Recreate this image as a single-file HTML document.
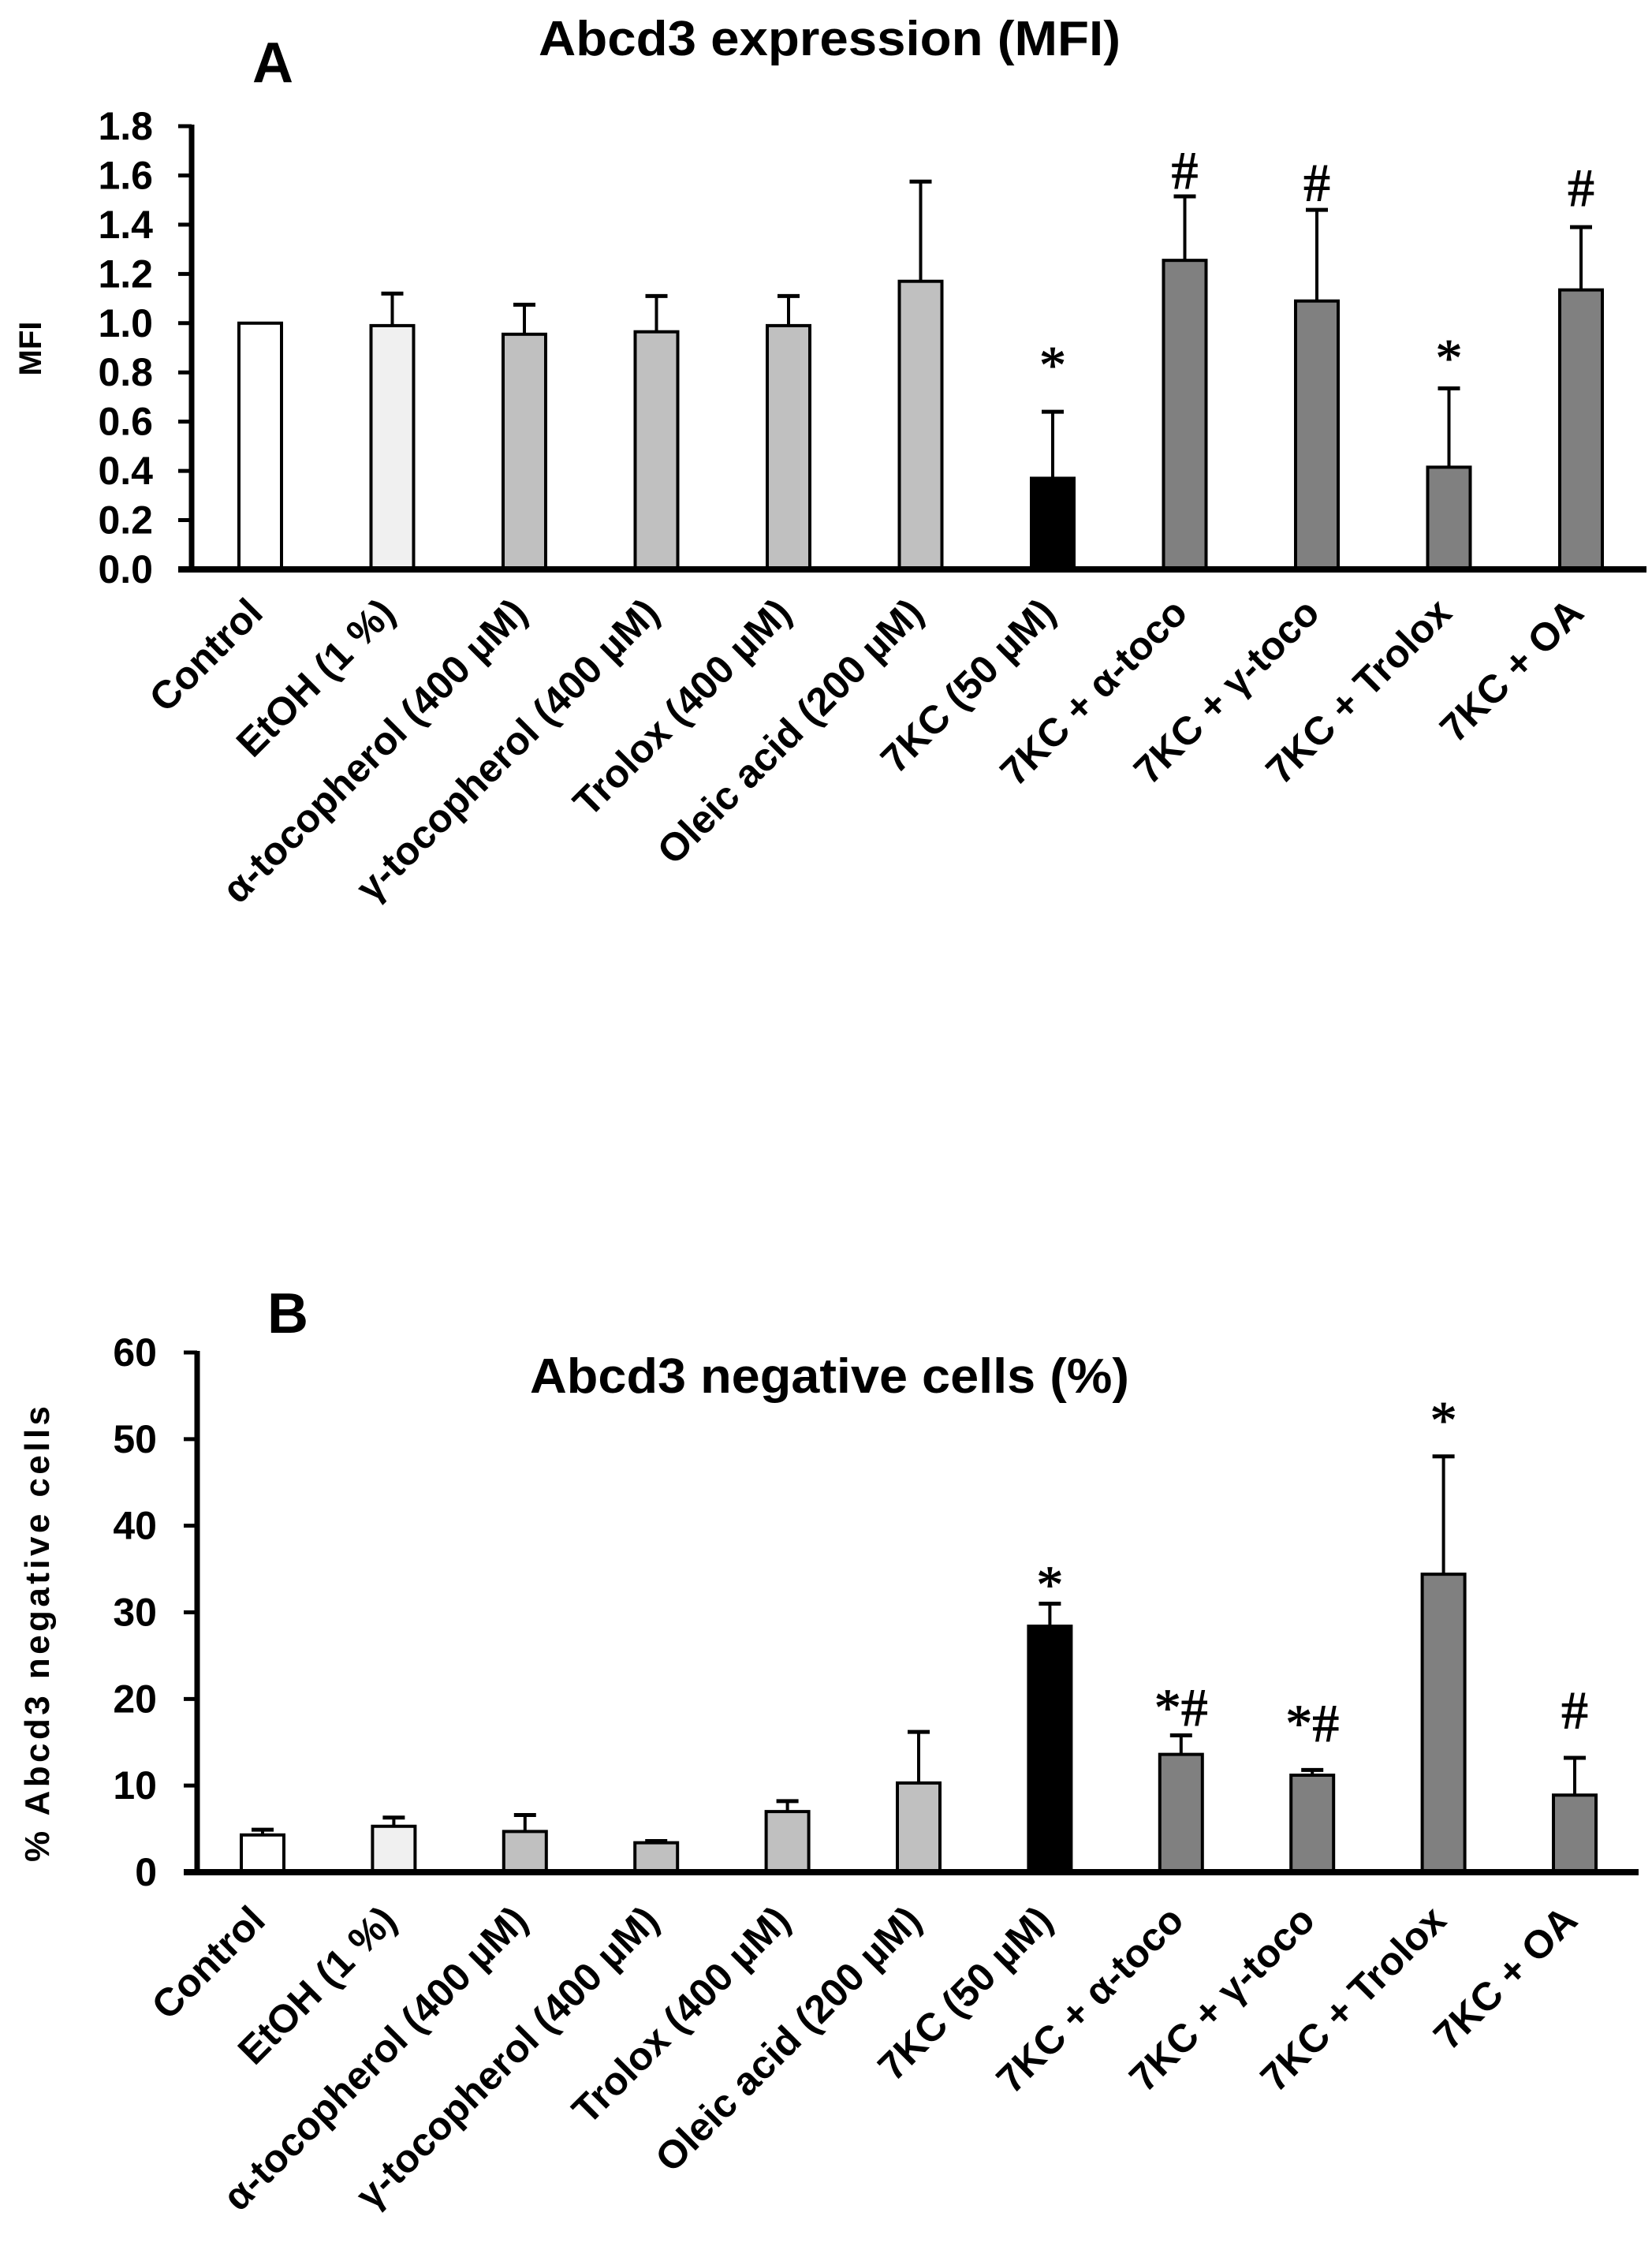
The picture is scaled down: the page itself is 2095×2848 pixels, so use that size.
<!DOCTYPE html>
<html><head><meta charset="utf-8"><style>
html,body{margin:0;padding:0;background:#fff;}
svg{display:block;font-family:"Liberation Sans",sans-serif;}
</style></head><body>
<svg id="fig" width="2095" height="2848" viewBox="0 0 2095 2848" xmlns="http://www.w3.org/2000/svg">
<g id="pa"></g>
<g id="pb"></g>
</svg>
<script>
const categories = ["Control","EtOH (1 %)","α-tocopherol (400 µM)","γ-tocopherol (400 µM)","Trolox (400 µM)","Oleic acid (200 µM)","7KC (50 µM)","7KC + α-toco","7KC + γ-toco","7KC + Trolox","7KC + OA"];
const fills = ["#ffffff","#f0f0f0","#c0c0c0","#c0c0c0","#c0c0c0","#c0c0c0","#000000","#808080","#808080","#808080","#808080"];
const valuesA = [1.0,0.99,0.955,0.965,0.99,1.17,0.37,1.255,1.09,0.415,1.135];
const errTopA = [null,1.12,1.075,1.11,1.11,1.575,0.64,1.515,1.46,0.735,1.39];
const marksA = ["","","","","","","*","#","#","*","#"];
const marksAY = [0,0,0,0,0,0,0.84,1.63,1.58,0.87,1.56];
const ticksA = ["0.0","0.2","0.4","0.6","0.8","1.0","1.2","1.4","1.6","1.8"];
const valuesB = [4.3,5.3,4.7,3.4,7.0,10.3,28.4,13.6,11.2,34.4,8.9];
const errTopB = [4.9,6.3,6.6,3.6,8.2,16.2,31.0,15.8,11.8,48.0,13.2];
const marksB = ["","","","","","","*","*#","*#","*","#"];
const marksBY = [0,0,0,0,0,0,33.5,19.3,17.5,52.5,19.0];
const ticksB = ["0","10","20","30","40","50","60"];

const NS="http://www.w3.org/2000/svg";
function mk(parent,tag,attrs,text){const e=document.createElementNS(NS,tag);for(const k in attrs)e.setAttribute(k,attrs[k]);if(text!==undefined)e.textContent=text;parent.appendChild(e);return e;}

function panel(g,cfg){
  const yS=v=>cfg.y0-(v-cfg.vmin)/(cfg.vmax-cfg.vmin)*(cfg.y0-cfg.y1);
  const xS=i=>cfg.xc0+i*cfg.step;
  cfg.ticks.forEach(t=>{
    const v=parseFloat(t), y=yS(v);
    const tl=mk(g,'line',{x1:cfg.ax-17,x2:cfg.ax,y1:y,y2:y,stroke:'#000','stroke-width':5});
    
    
    const tx=mk(g,'text',{x:cfg.labR,y:y+17,'text-anchor':'end','font-size':50,'font-weight':'bold'},t);
    
    
  });
  cfg.vals.forEach((v,i)=>{
    const cx=xS(i), w=54;
    const et=cfg.err[i];
    if(et!==null){
      const el=mk(g,'line',{x1:cx,x2:cx,y1:yS(v),y2:yS(et),stroke:'#000','stroke-width':4});
      
      
      const ec=mk(g,'line',{x1:cx-14,x2:cx+14,y1:yS(et),y2:yS(et),stroke:'#000','stroke-width':5});
      
      
    }
    const r=mk(g,'rect',{x:cx-w/2,y:yS(v),width:w,height:yS(cfg.vmin)-yS(v),fill:fills[i],stroke:'#000','stroke-width':4});
    
    
    if(cfg.marks[i]){
      const m=mk(g,'text',{x:cx,y:yS(cfg.marksY[i])+26,'text-anchor':'middle','font-size':68,'font-family':'Liberation Serif, serif','stroke':'#000','stroke-width':1},cfg.marks[i]);
      
      
    }
    const lx=cx+6, ly=cfg.y0+cfg.labOff;
    const lab=mk(g,'text',{x:lx,y:ly,'text-anchor':'end','font-size':50,'font-weight':'bold',transform:`rotate(-45 ${lx} ${ly})`},categories[i]);
    
    
  });
  const ya=mk(g,'line',{x1:cfg.ax,x2:cfg.ax,y1:cfg.y1-2,y2:cfg.y0+4,stroke:'#000','stroke-width':7});
  
  
  const xa=mk(g,'line',{x1:cfg.ax-17,x2:cfg.xEnd,y1:cfg.y0,y2:cfg.y0,stroke:'#000','stroke-width':8});
  
  
}

const ga=document.getElementById('pa'), gb=document.getElementById('pb');
panel(ga,{vmin:0,vmax:1.8,y0:722,y1:160,ax:243,xEnd:2088,xc0:330,step:167.5,labR:194,labOff:58,vals:valuesA,err:errTopA,marks:marksA,marksY:marksAY,ticks:ticksA});
panel(gb,{vmin:0,vmax:60,y0:2374,y1:1715,ax:250,xEnd:2078,xc0:333,step:166.4,labR:199,labOff:64,vals:valuesB,err:errTopB,marks:marksB,marksY:marksBY,ticks:ticksB});

let t;
t=mk(ga,'text',{x:1052,y:70,'text-anchor':'middle','font-size':62,'font-weight':'bold',textLength:738,lengthAdjust:'spacingAndGlyphs'},'Abcd3 expression (MFI)');


t=mk(ga,'text',{x:346,y:104,'text-anchor':'middle','font-size':72,'font-weight':'bold'},'A');


t=mk(ga,'text',{x:52,y:442,'text-anchor':'middle','font-size':40,'font-weight':'bold',transform:'rotate(-90 52 442)'},'MFI');


t=mk(gb,'text',{x:1052,y:1766,'text-anchor':'middle','font-size':62,'font-weight':'bold',textLength:760,lengthAdjust:'spacingAndGlyphs'},'Abcd3 negative cells (%)');


t=mk(gb,'text',{x:365,y:1690,'text-anchor':'middle','font-size':72,'font-weight':'bold'},'B');


t=mk(gb,'text',{x:62,y:2072,'text-anchor':'middle','font-size':44,'font-weight':'bold',textLength:578,lengthAdjust:'spacing',transform:'rotate(-90 62 2072)'},'% Abcd3  negative  cells');


</script>
</body></html>
